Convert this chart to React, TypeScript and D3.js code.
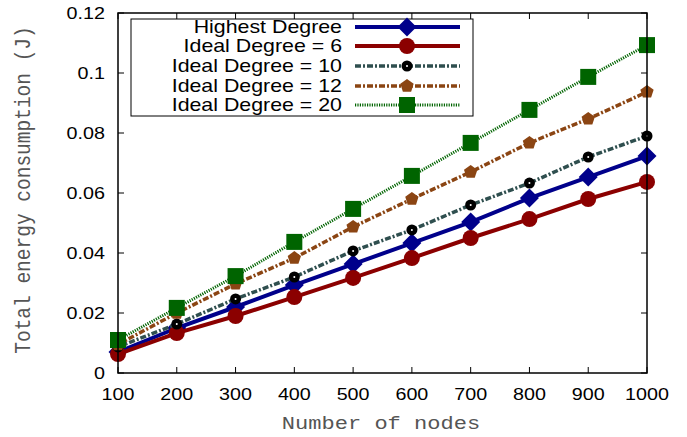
import React from "react";
import * as d3 from "d3";

const nodes = [100, 200, 300, 400, 500, 600, 700, 800, 900, 1000];
const highestDegree = [0.007, 0.015, 0.022, 0.0293, 0.0363, 0.0433, 0.0503, 0.0583, 0.0653, 0.0723];
const ideal6 = [0.0063, 0.0133, 0.019, 0.0253, 0.0317, 0.0383, 0.045, 0.0513, 0.058, 0.0637];
const ideal10 = [0.0087, 0.0163, 0.0247, 0.032, 0.0407, 0.0477, 0.056, 0.0633, 0.072, 0.079];
const ideal12 = [0.0095, 0.02, 0.0297, 0.0383, 0.0487, 0.058, 0.067, 0.0767, 0.0847, 0.0937];
const ideal20 = [0.011, 0.0217, 0.0323, 0.0437, 0.0547, 0.0657, 0.0767, 0.0877, 0.0987, 0.1093];
const yTicks = [0, 0.02, 0.04, 0.06, 0.08, 0.1, 0.12];
const yTickLabels = ["0", "0.02", "0.04", "0.06", "0.08", "0.1", "0.12"];
const seriesNames = ["Highest Degree", "Ideal Degree = 6", "Ideal Degree = 10", "Ideal Degree = 12", "Ideal Degree = 20"];

type Series = { name: string; values: number[]; color: string; width: number; dash?: string; marker: string };

const series: Series[] = [
  { name: seriesNames[0], values: highestDegree, color: "#00008B", width: 4, marker: "diamond" },
  { name: seriesNames[1], values: ideal6, color: "#8B0000", width: 4, marker: "circle" },
  { name: seriesNames[2], values: ideal10, color: "#2F4F4F", width: 3.5, dash: "6,2,2,2", marker: "dotcircle" },
  { name: seriesNames[3], values: ideal12, color: "#8B4513", width: 3.5, dash: "6,2,2,2", marker: "pentagon" },
  { name: seriesNames[4], values: ideal20, color: "#006400", width: 3, dash: "1.2,1.2", marker: "square" },
];

const W = 687, H = 437;
const L = 118, R = 647, T = 13, B = 373;
const SX = 1.16;
const SANS = "Liberation Sans, Arial, sans-serif";
const MONO = "Liberation Mono, Courier New, monospace";

function Txt({ x, y, anchor, size, family, fill, sx, children }: any) {
  return (
    <text
      transform={`translate(${x},${y}) scale(${sx || SX},1)`}
      textAnchor={anchor}
      fontFamily={family}
      fontSize={size}
      fill={fill || "#000"}
    >
      {children}
    </text>
  );
}

function Marker({ type, x, y, color }: { type: string; x: number; y: number; color: string }) {
  if (type === "diamond") {
    const s = 9.5;
    return <path d={`M${x},${y - s}L${x + s},${y}L${x},${y + s}L${x - s},${y}Z`} fill={color} />;
  }
  if (type === "circle") return <circle cx={x} cy={y} r={8} fill={color} />;
  if (type === "dotcircle")
    return (
      <g>
        <circle cx={x} cy={y} r={5.5} fill="#000" />
        <circle cx={x} cy={y} r={1} fill="#fff" />
      </g>
    );
  if (type === "pentagon") {
    const r = 7;
    const pts = d3.range(5).map((i) => {
      const a = -Math.PI / 2 + (i * 2 * Math.PI) / 5;
      return [x + r * Math.cos(a), y + r * Math.sin(a)];
    });
    return <polygon points={pts.map((p) => p.join(",")).join(" ")} fill={color} />;
  }
  const s = 8;
  return <rect x={x - s} y={y - s} width={2 * s} height={2 * s} fill={color} />;
}

export default function App() {
  const x = d3.scaleLinear().domain([100, 1000]).range([L, R]);
  const y = d3.scaleLinear().domain([0, 0.12]).range([B, T]);
  const line = d3
    .line<number>()
    .x((_, i) => x(nodes[i]))
    .y((d) => y(d));
  const tl = 6;
  const legendY = [27, 46, 66, 86, 105];
  return (
    <svg width={W} height={H} style={{ position: "absolute", left: 0, top: 0 }}>
      <rect width={W} height={H} fill="#fff" />
      {yTicks.map((t, i) => (
        <g key={"y" + i}>
          <line x1={L} x2={L + tl} y1={y(t)} y2={y(t)} stroke="#000" />
          <line x1={R} x2={R - tl} y1={y(t)} y2={y(t)} stroke="#000" />
          <Txt x={105} y={y(t) + 6} anchor="end" size={17} family={SANS}>
            {yTickLabels[i]}
          </Txt>
        </g>
      ))}
      {nodes.map((n, i) => (
        <g key={"x" + i}>
          <line x1={x(n)} x2={x(n)} y1={B} y2={B - tl} stroke="#000" />
          <line x1={x(n)} x2={x(n)} y1={T} y2={T + tl} stroke="#000" />
          <Txt x={x(n)} y={400} anchor="middle" size={17} family={SANS}>
            {n}
          </Txt>
        </g>
      ))}
      {series.map((s, si) => (
        <g key={si}>
          <path d={line(s.values) || ""} fill="none" stroke={s.color} strokeWidth={s.width} strokeDasharray={s.dash} />
          {s.values.map((v, i) => (
            <Marker key={i} type={s.marker} x={x(nodes[i])} y={y(v)} color={s.color} />
          ))}
        </g>
      ))}
      <rect x={L} y={T} width={R - L} height={B - T} fill="none" stroke="#000" strokeWidth={1.5} />
      <rect x={131} y={19} width={342} height={97} fill="#fff" stroke="#000" strokeWidth={1} />
      {series.map((s, i) => (
        <g key={"l" + i}>
          <Txt x={342} y={legendY[i] + 6} anchor="end" size={17.5} sx={1.22} family={SANS}>
            {s.name}
          </Txt>
          <line x1={355} x2={460} y1={legendY[i]} y2={legendY[i]} stroke={s.color} strokeWidth={s.width} strokeDasharray={s.dash} />
          <Marker type={s.marker} x={407} y={legendY[i]} color={s.color} />
        </g>
      ))}
      <Txt x={381} y={429} anchor="middle" size={19} family={MONO} fill="#555">
        Number of nodes
      </Txt>
      <text
        transform={`translate(30,190) rotate(-90) scale(1,${SX})`}
        textAnchor="middle"
        fontFamily={MONO}
        fontSize={19.5}
        fill="#555"
      >
        Total energy consumption (J)
      </text>
    </svg>
  );
}
